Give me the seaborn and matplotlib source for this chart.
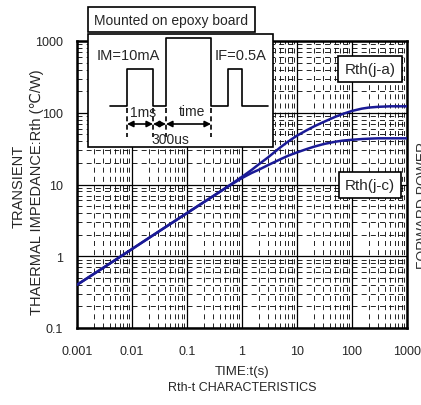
import numpy as np
import pandas as pd
import matplotlib
matplotlib.use('Agg')
import matplotlib.pyplot as plt
import seaborn as sns
from matplotlib.patches import Rectangle
from matplotlib.ticker import LogLocator, NullFormatter

# values
time_s = [0.001, 0.003, 0.01, 0.03, 0.1, 0.3, 0.6, 1, 1.5, 2, 3, 5, 7, 10, 15, 20, 30, 50, 70, 100, 150, 200, 300, 500, 1000]
rth_ja = [0.40, 0.69, 1.26, 2.19, 4.0, 6.9, 9.8, 12.8, 16, 19, 24, 33, 40, 48, 57, 64, 74, 88, 97, 106, 114, 118, 121, 123, 123]
rth_jc = [0.40, 0.69, 1.26, 2.19, 4.0, 6.9, 9.7, 12.3, 14.5, 16, 18.7, 22.5, 25.3, 28, 31.2, 33.5, 36.5, 39.5, 41, 42, 43, 43.5, 44, 44, 44]

x_ticks = [0.001, 0.01, 0.1, 1, 10, 100, 1000]
x_labels = ['0.001', '0.01', '0.1', '1', '10', '100', '1000']
y_ticks = [0.1, 1, 10, 100, 1000]
y_labels = ['0.1', '1', '10', '100', '1000']

navy = '#1a1a96'

sns.set_style('white')
plt.rcParams['font.family'] = ['Liberation Sans', 'DejaVu Sans']

W, H = 421, 406
fig = plt.figure(figsize=(W / 100, H / 100), dpi=100)


def fx(px):
    return px / W


def fy(py):
    return 1 - py / H


L, R, T, B = 77, 407, 42, 329
ax = fig.add_axes([fx(L), fy(B), fx(R) - fx(L), fy(T) - fy(B)])

df = pd.concat([
    pd.DataFrame({'time': time_s, 'rth': rth_ja, 'curve': 'Rth(j-a)'}),
    pd.DataFrame({'time': time_s, 'rth': rth_jc, 'curve': 'Rth(j-c)'}),
])
sns.lineplot(data=df, x='time', y='rth', hue='curve', palette=[navy, navy],
             legend=False, ax=ax, linewidth=1.8, zorder=5)

ax.set_xscale('log')
ax.set_yscale('log')
ax.set_xlim(0.001, 1000)
ax.set_ylim(0.1, 1000)
ax.set_xticks(x_ticks)
ax.set_xticklabels(x_labels)
ax.set_yticks(y_ticks)
ax.set_yticklabels(y_labels)
ax.xaxis.set_minor_locator(LogLocator(base=10, subs=np.arange(2, 10), numticks=20))
ax.yaxis.set_minor_locator(LogLocator(base=10, subs=np.arange(2, 10), numticks=20))
ax.xaxis.set_minor_formatter(NullFormatter())
ax.yaxis.set_minor_formatter(NullFormatter())
ax.grid(True, which='major', color='black', linewidth=0.9)
ax.grid(True, which='minor', color='black', linewidth=0.6, linestyle=(0, (6, 5)))
ax.tick_params(which='both', length=0, labelsize=9)
ax.tick_params(axis='x', pad=12)
ax.tick_params(axis='y', pad=10)
ax.set_xlabel('')
ax.set_ylabel('')
for s in ax.spines.values():
    s.set_linewidth(1.8)
    s.set_color('black')

# overlay in pixel coordinates for the schematic and boxes
ov = fig.add_axes([0, 0, 1, 1], zorder=10)
ov.set_xlim(0, W)
ov.set_ylim(H, 0)
ov.axis('off')

ov.add_patch(Rectangle((88, 8), 167, 25, fc='white', ec='black', lw=1.2))
ov.text(171.5, 21, 'Mounted on epoxy board', ha='center', va='center', fontsize=10)
ov.add_patch(Rectangle((88, 35), 185, 113, fc='white', ec='black', lw=1.2))

wx = [110, 127, 127, 153, 153, 166, 166, 211, 211, 228, 228, 242, 242, 268]
wy = [107, 107, 70, 70, 107, 107, 39, 39, 107, 107, 70, 70, 107, 107]
ov.plot(wx, wy, color='black', lw=1.2)
for xv in [127, 153, 166, 211]:
    ov.plot([xv, xv], [109, 138], color='black', lw=1.2, linestyle=(0, (3, 2)))
for a, b in [(127, 153), (153, 166), (166, 211)]:
    ov.annotate('', xy=(b, 125), xytext=(a, 125),
                arrowprops=dict(arrowstyle='<|-|>', color='black', lw=1.2,
                                shrinkA=0, shrinkB=0, mutation_scale=9))
ov.text(128, 56, 'IM=10mA', ha='center', va='center', fontsize=10.5)
ov.text(241, 56, 'IF=0.5A', ha='center', va='center', fontsize=10.5)
ov.text(143, 113, '1ms', ha='center', va='center', fontsize=10)
ov.text(192, 112, 'time', ha='center', va='center', fontsize=10)
ov.text(170, 140, '300us', ha='center', va='center', fontsize=10)

box = dict(boxstyle='square,pad=0.4', fc='white', ec='black', lw=1.2)
ov.text(370, 70, 'Rth(j-a)', ha='center', va='center', fontsize=11, bbox=box)
ov.text(370, 186, 'Rth(j-c)', ha='center', va='center', fontsize=11, bbox=box)

ov.text(19, 186, 'TRANSIENT', rotation=90, ha='center', va='center', fontsize=10.5)
ov.text(37, 192, 'THAERMAL IMPEDANCE:Rth (℃/W)', rotation=90, ha='center', va='center', fontsize=10.5)
ov.text(242, 372, 'TIME:t(s)', ha='center', va='center', fontsize=9.5)
ov.text(242, 388, 'Rth-t CHARACTERISTICS', ha='center', va='center', fontsize=9)
ov.text(423, 205, 'FORWARD POWER', rotation=90, ha='center', va='center', fontsize=10, color='#333333')

fig.savefig('out.png', dpi=100)
